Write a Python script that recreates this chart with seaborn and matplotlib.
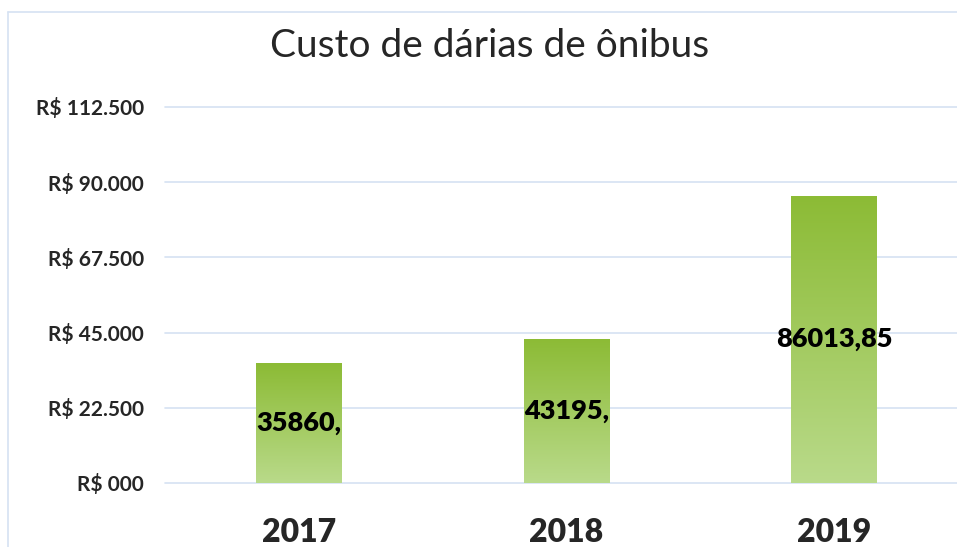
#!/usr/bin/env python3

import matplotlib
matplotlib.use('Agg')
import matplotlib.pyplot as plt
import numpy as np
import pandas as pd
import seaborn as sns
from matplotlib.colors import LinearSegmentedColormap

YEARS = ['2017', '2018', '2019']
COSTS = [35860.00, 43195.00, 86013.85]
BAR_LABELS = ['35860,', '43195,', '86013,85']
Y_TICKS = [0, 22500, 45000, 67500, 90000, 112500]
Y_TICK_LABELS = ['R$ 000', 'R$ 22.500', 'R$ 45.000', 'R$ 67.500',
                 'R$ 90.000', 'R$ 112.500']
TITLE = 'Custo de dárias de ônibus'

GREEN_TOP = '#8cbb35'
GREEN_BOT = '#b9da8a'
GRID_COL = '#d6e2f2'

sns.set_style('white')
plt.rcParams['font.family'] = ['Lato', 'DejaVu Sans']

df = pd.DataFrame({'year': YEARS, 'cost': COSTS})

fig = plt.figure(figsize=(9.57, 5.47), dpi=100)
ax = fig.add_axes([165 / 957, 64 / 547, (968 - 165) / 957, (483 - 107) / 547])

sns.barplot(data=df, x='year', y='cost', color=GREEN_TOP, width=0.32,
            ax=ax, zorder=2)

# gradient fill clipped to each bar
cmap = LinearSegmentedColormap.from_list('g', [GREEN_BOT, GREEN_TOP])
grad = np.linspace(0, 1, 256).reshape(-1, 1)
for bar in ax.patches:
    x0, y0 = bar.get_x(), bar.get_y()
    w, h = bar.get_width(), bar.get_height()
    im = ax.imshow(grad, cmap=cmap, aspect='auto', origin='lower',
                   extent=[x0, x0 + w, y0, y0 + h], zorder=3)
    im.set_clip_path(bar)
    bar.set_edgecolor('none')

for i, lab in enumerate(BAR_LABELS):
    ax.text(i, COSTS[i] / 2, lab, ha='center', va='center',
            fontsize=19.5, fontweight='heavy', color='black', zorder=5)

ax.set_xlim(-0.5, 2.5)
ax.set_ylim(0, 112500)
ax.set_yticks(Y_TICKS)
ax.set_yticklabels(Y_TICK_LABELS, fontsize=15, fontweight='bold')
ax.tick_params(axis='y', length=0, pad=15)
ax.tick_params(axis='x', length=0, pad=25)
for t in ax.get_xticklabels():
    t.set_fontsize(23)
    t.set_fontweight('heavy')
ax.set_xlabel('')
ax.set_ylabel('')
ax.grid(axis='y', color=GRID_COL, linewidth=1.2, zorder=0)
ax.set_axisbelow(True)
for s in ax.spines.values():
    s.set_visible(False)
for line in ax.get_ygridlines():
    line.set_clip_on(False)

fig.text(490 / 957, 1 - 46 / 547, TITLE, ha='center', va='center',
         fontsize=28)

# outer chart frame (top and left edge visible in the crop)
fig.add_artist(plt.Line2D([8 / 957, 1], [1 - 12 / 547] * 2,
                          color=GRID_COL, linewidth=1.2))
fig.add_artist(plt.Line2D([8 / 957] * 2, [0, 1 - 12 / 547],
                          color=GRID_COL, linewidth=1.2))

plt.savefig('out.png', dpi=100)
